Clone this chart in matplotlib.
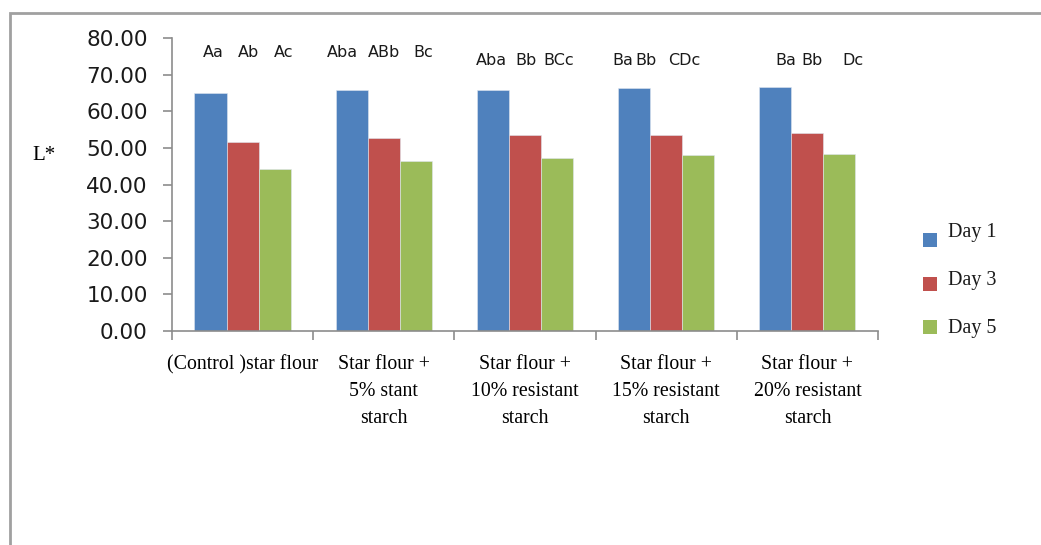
"""
L* colour values of star flour blends with resistant starch,
measured on day 1, 3 and 5 of storage.
"""

import matplotlib.pyplot as plt
import numpy as np
from matplotlib.patches import Rectangle
from matplotlib.transforms import Bbox

categories = [
    "(Control )star flour",
    "Star flour +\n5% stant\nstarch",
    "Star flour +\n10% resistant\nstarch",
    "Star flour +\n15% resistant\nstarch",
    "Star flour +\n20% resistant\nstarch",
]
series_names = ["Day 1", "Day 3", "Day 5"]
day1 = [65.0, 65.9, 66.0, 66.3, 66.6]
day3 = [51.7, 52.8, 53.6, 53.6, 54.2]
day5 = [44.4, 46.4, 47.2, 48.1, 48.4]

# significance letters, one row per category (Day 1, Day 3, Day 5)
letters = [
    ["Aa", "Ab", "Ac"],
    ["Aba", "ABb", "Bc"],
    ["Aba", "Bb", "BCc"],
    ["Ba", "Bb", "CDc"],
    ["Ba", "Bb", "Dc"],
]

yticks = [0, 10, 20, 30, 40, 50, 60, 70, 80]

colors = ["#4F81BD", "#C0504D", "#9BBB59"]
serif = "Liberation Serif"

# where the letters sit: x offset from the category centre, and height
letter_dx = [
    [-0.21, 0.04, 0.29],
    [-0.29, 0.00, 0.28],
    [-0.24, 0.01, 0.24],
    [-0.31, -0.14, 0.13],
    [-0.15, 0.03, 0.32],
]
letter_y = [76.2, 76.2, 74.0, 74.0, 74.0]

fig = plt.figure(figsize=(10.41, 5.45), dpi=100)
ax = fig.add_axes([0.1652, 0.3927, 0.6782, 0.5370])

x = np.arange(len(categories))
width = 0.227
for i, vals in enumerate([day1, day3, day5]):
    ax.bar(x + (i - 1) * width, vals, width, color=colors[i],
           edgecolor="#dfe6f0", linewidth=0.4, zorder=2)

ax.set_xlim(-0.5, len(categories) - 0.5)
ax.set_ylim(0, 80)
ax.set_yticks(yticks)
ax.set_yticklabels([f"{v:.2f}" for v in yticks])

# category names centred, tick marks on the boundaries
ax.set_xticks(x)
ax.set_xticklabels(categories, fontfamily=serif, fontsize=14.3,
                   linespacing=1.6, va="top")
ax.set_xticks(np.arange(-0.5, len(categories)), minor=True)
ax.tick_params(axis="x", which="major", length=0, pad=17)
ax.tick_params(axis="x", which="minor", length=6.5, color="#8c8c8c",
               width=1.2)
ax.tick_params(axis="y", length=6.5, color="#8c8c8c", width=1.2,
               labelsize=15.5, pad=11, labelcolor="#1a1a1a")

for side in ["top", "right"]:
    ax.spines[side].set_visible(False)
for side in ["left", "bottom"]:
    ax.spines[side].set_color("#8c8c8c")
    ax.spines[side].set_linewidth(1.2)

ax.set_ylabel("L*", fontfamily=serif, fontsize=15, rotation=0,
              labelpad=0, va="center", ha="left")
ax.yaxis.set_label_coords(-0.198, 0.6)

# letters above the bars; the last two rows are cut at the plot top
cut = Bbox.from_extents(0, 545 - 64.5, 1041, 545)
for g, row in enumerate(letters):
    for j, txt in enumerate(row):
        t = ax.text(x[g] + letter_dx[g][j], letter_y[g], txt,
                    ha="center", va="center", fontsize=11.5,
                    color="#1a1a1a")
        if g >= 3:
            t.set_clip_box(cut)
            t.set_clip_on(True)

# legend drawn on the right side of the figure
for i, name in enumerate(series_names):
    yc = 1 - (240 + i * 43.5) / 545
    fig.patches.append(Rectangle((923 / 1041, yc - 7 / 545), 14 / 1041,
                                 14 / 545, transform=fig.transFigure,
                                 facecolor=colors[i], edgecolor="none"))
    fig.text(948 / 1041, 1 - (237 + i * 48) / 545, name,
             fontfamily=serif, fontsize=14.5, va="baseline", ha="left",
             color="#1a1a1a")

# outer chart frame (top and left edges visible)
fig.patches.append(Rectangle((10 / 1041, -0.1), 1.2, 1.1 - 13 / 545,
                             transform=fig.transFigure, fill=False,
                             edgecolor="#a0a0a0", linewidth=2))

fig.savefig("out.png", dpi=100)
